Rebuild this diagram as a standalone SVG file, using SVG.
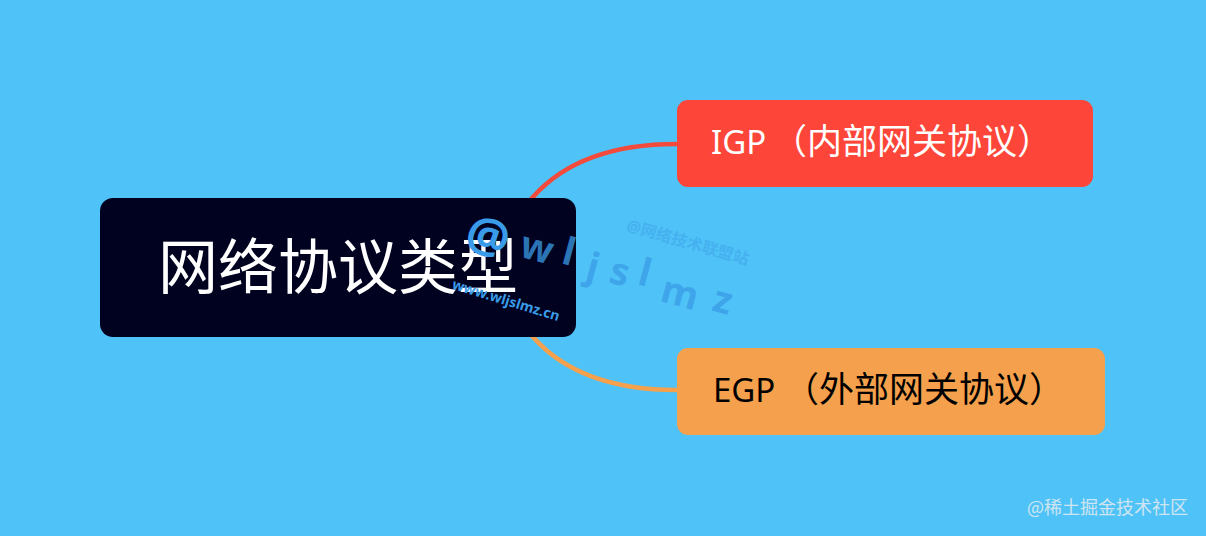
<svg xmlns="http://www.w3.org/2000/svg" width="1206" height="536" viewBox="0 0 1206 536">
  <style>
    .cjk { font-family: "Noto Sans", "Noto Sans CJK SC", sans-serif; }
    .link { fill: none; stroke-width: 4.5; stroke-linecap: round; }
    .wm { font-family: "Noto Sans", "Noto Sans CJK SC", sans-serif; font-weight: bold; fill: #3a9ce8; }
  </style>
  <rect x="0" y="0" width="1206" height="536" fill="#4fc3f7"/>

  <g id="connectors">
    <path class="link" stroke="#f44a3b" d="M 505 229 L 533 197 Q 580 144 677 144"/>
    <path class="link" stroke="#f4a04c" d="M 505 305 L 533 337 Q 580 390 677 390"/>
  </g>

  <g id="root">
    <rect x="100" y="198" width="476" height="139" rx="13" fill="#01021f"/>
    <text class="cjk" x="338" y="289" font-size="60" fill="#ffffff" text-anchor="middle">网络协议类型</text>
  </g>

  <g id="igp">
    <rect x="677" y="100" width="416" height="87" rx="11" fill="#fe4539"/>
    <text class="cjk" y="154" fill="#ffffff"><tspan x="711" font-size="33">IGP</tspan><tspan x="772" font-size="35">（内部网关协议）</tspan></text>
  </g>

  <g id="egp">
    <rect x="677" y="348" width="428" height="87" rx="11" fill="#f5a04c"/>
    <text class="cjk" y="402" fill="#000000"><tspan x="713" font-size="33">EGP</tspan><tspan x="784" font-size="35">（外部网关协议）</tspan></text>
  </g>

  <g id="watermark">
    <text class="wm" x="488" y="253" font-size="48" text-anchor="middle" transform="rotate(15 488 237)">@</text>
    <g opacity="0.75">
      <text class="wm" x="537" y="261" font-size="38" text-anchor="middle" transform="rotate(15 537 248)">w</text>
      <text class="wm" x="569" y="265" font-size="38" text-anchor="middle" transform="rotate(15 569 252)">l</text>
      <text class="wm" x="593" y="280" font-size="38" text-anchor="middle" transform="rotate(15 593 267)">j</text>
      <text class="wm" x="620" y="285" font-size="38" text-anchor="middle" transform="rotate(15 620 272)">s</text>
      <text class="wm" x="645" y="286" font-size="38" text-anchor="middle" transform="rotate(15 645 273)">l</text>
      <text class="wm" x="680" y="306" font-size="38" text-anchor="middle" transform="rotate(15 680 293)">m</text>
      <text class="wm" x="723" y="313" font-size="38" text-anchor="middle" transform="rotate(15 723 300)">z</text>
    </g>
    <text class="wm" x="688" y="248" font-size="16" text-anchor="middle" opacity="0.45" transform="rotate(16 688 242)">@网络技术联盟站</text>
    <text class="wm" x="506" y="305" font-size="14" text-anchor="middle" transform="rotate(17 506 300)">www.wljslmz.cn</text>
    <text x="1027" y="514" font-size="18" font-family="Noto Sans CJK SC, sans-serif" fill="#e4ecf0" opacity="0.85">@稀土掘金技术社区</text>
  </g>
</svg>
